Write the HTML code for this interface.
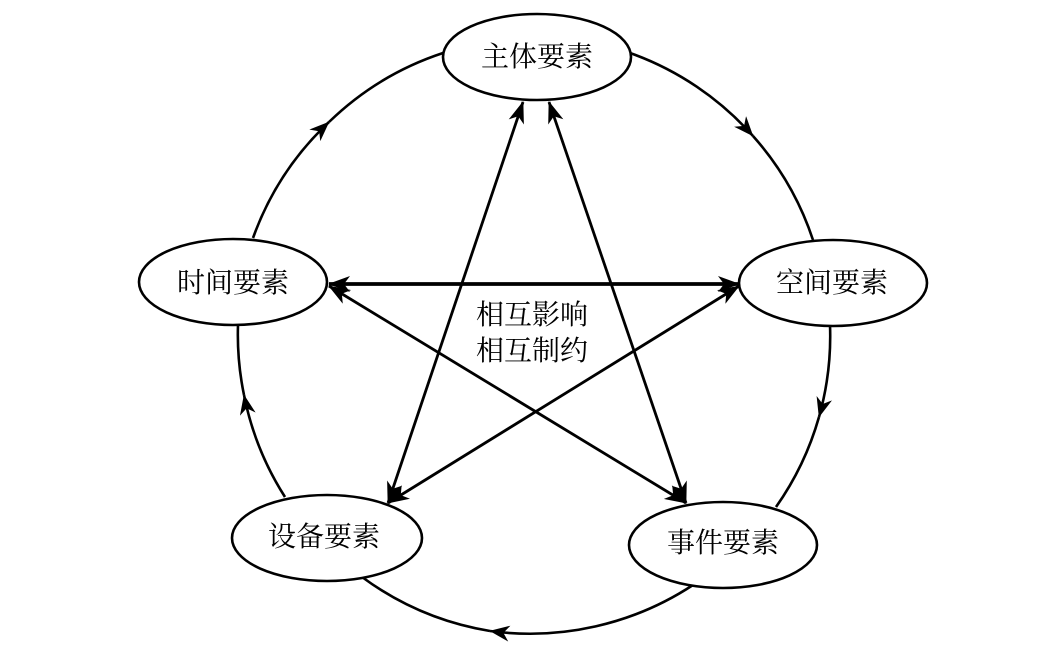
<!DOCTYPE html>
<html>
<head>
<meta charset="utf-8">
<style>
  html, body { margin: 0; padding: 0; background: #fff; }
  body { width: 1047px; height: 646px; overflow: hidden; }
  svg { display: block; }
  text { font-family: "Liberation Serif", "Noto Serif CJK SC", serif; font-size: 28px; fill: #000; }
</style>
</head>
<body>
<svg width="1047" height="646" viewBox="0 0 1047 646" xmlns="http://www.w3.org/2000/svg">
  <defs>
    <marker id="big" markerUnits="userSpaceOnUse" viewBox="0 0 22 16" refX="21" refY="8" markerWidth="22" markerHeight="16" orient="auto-start-reverse">
      <path d="M0,0 L22,8 L0,16 L6,8 Z" fill="#000"/>
    </marker>
    <marker id="small" markerUnits="userSpaceOnUse" viewBox="0 0 20 16" refX="19.5" refY="8" markerWidth="20" markerHeight="16" orient="auto">
      <path d="M0,0 L20,8 L0,16 L6,8 Z" fill="#000"/>
    </marker>
  </defs>

  <!-- circle arcs (clockwise) -->
  <g fill="none" stroke="#000" stroke-width="2.6">
    <path d="M630,53 A297,297 0 0 1 753,136" marker-end="url(#small)"/>
    <path d="M753,136 A297,297 0 0 1 813,240"/>
    <path d="M830,325 A297,297 0 0 1 819,417" marker-end="url(#small)"/>
    <path d="M819,417 A297,297 0 0 1 776,507"/>
    <path d="M693,585 A297,297 0 0 1 490,631" marker-end="url(#small)"/>
    <path d="M490,631 A297,297 0 0 1 362,577"/>
    <path d="M285,497 A297,297 0 0 1 244,395" marker-end="url(#small)"/>
    <path d="M244,395 A297,297 0 0 1 238,325"/>
    <path d="M253,238 A297,297 0 0 1 329,122" marker-end="url(#small)"/>
    <path d="M329,122 A297,297 0 0 1 443,53"/>
  </g>

  <!-- straight double arrows -->
  <g fill="none" stroke="#000" stroke-width="2.8">
    <line x1="523" y1="102" x2="388" y2="503" marker-start="url(#big)" marker-end="url(#big)"/>
    <line x1="549" y1="102" x2="686" y2="503" marker-start="url(#big)" marker-end="url(#big)"/>
    <line x1="329" y1="286" x2="686" y2="503" marker-start="url(#big)" marker-end="url(#big)"/>
    <line x1="739" y1="286" x2="388" y2="503" marker-start="url(#big)" marker-end="url(#big)"/>
    <line x1="329" y1="284" x2="739" y2="284" stroke-width="3.8" marker-start="url(#big)" marker-end="url(#big)"/>
  </g>

  <!-- ellipses -->
  <g fill="#fff" stroke="#000" stroke-width="2.6">
    <ellipse cx="537" cy="57" rx="94" ry="43"/>
    <ellipse cx="233" cy="282" rx="94" ry="43"/>
    <ellipse cx="833" cy="283" rx="94" ry="43"/>
    <ellipse cx="327" cy="538" rx="95" ry="43"/>
    <ellipse cx="723" cy="545" rx="94" ry="43"/>
  </g>

  <!-- labels -->
  <g text-anchor="middle">
    <text x="537" y="66">主体要素</text>
    <text x="233" y="292">时间要素</text>
    <text x="832" y="292">空间要素</text>
    <text x="324" y="546">设备要素</text>
    <text x="723" y="552">事件要素</text>
    <text x="532" y="324">相互影响</text>
    <text x="532" y="360">相互制约</text>
  </g>
</svg>
</body>
</html>
